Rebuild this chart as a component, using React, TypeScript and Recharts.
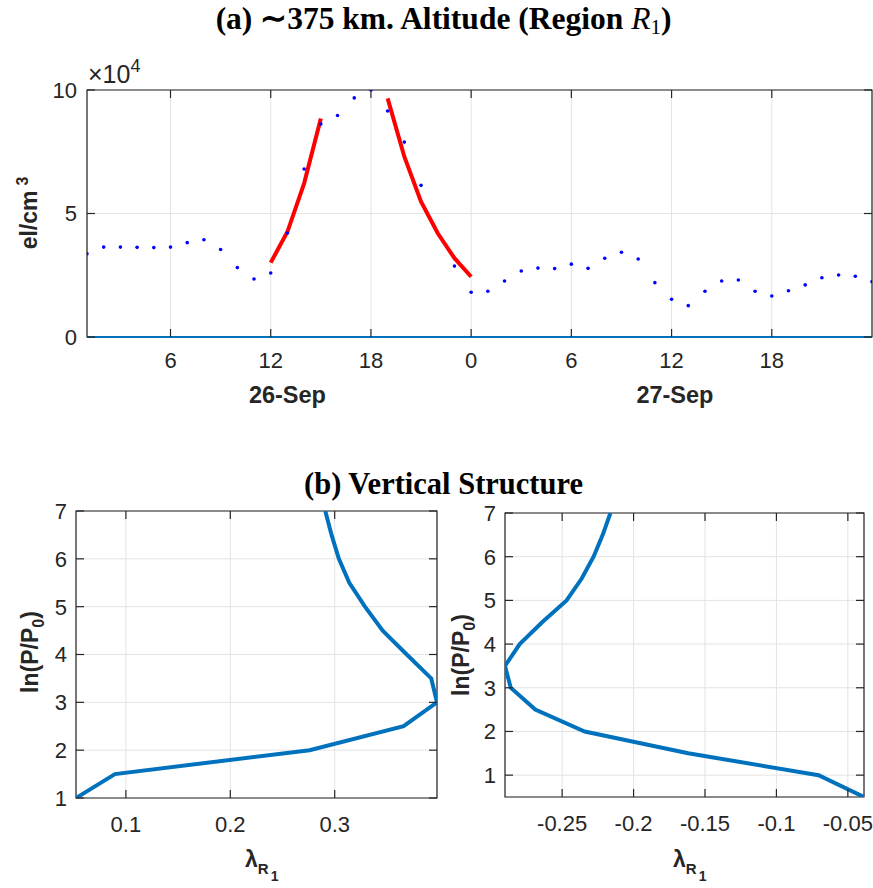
import React from 'react';
import {
  ComposedChart,
  Line,
  Scatter,
  XAxis,
  YAxis,
  CartesianGrid,
  ReferenceLine,
  ReferenceArea,
} from 'recharts';

// ---------- Data (a): electron density, units of 10^4 el/cm^3 ----------
const obsHours = [
  1, 2, 3, 4, 5, 6, 7, 8, 9, 10, 11, 12, 13, 14, 15, 16, 17, 18, 19, 20, 21,
  23, 24, 25, 26, 27, 28, 29, 30, 31, 32, 33, 34, 35, 36, 37, 38, 39, 40, 41,
  42, 43, 44, 45, 46, 47, 48,
];
const obsDensity = [
  3.37, 3.64, 3.64, 3.63, 3.62, 3.64, 3.82, 3.94, 3.54, 2.81, 2.35, 2.59, 4.21,
  6.8, 8.62, 8.97, 9.68, 10.0, 9.15, 7.89, 6.14,
  2.87, 1.81, 1.85, 2.27, 2.67, 2.79, 2.77, 2.95, 2.78, 3.19, 3.43, 3.16, 2.2,
  1.53, 1.27, 1.85, 2.27, 2.31, 1.85, 1.66, 1.87, 2.11, 2.4, 2.51, 2.46, 2.24,
];
const riseHours = [12, 13, 14, 15];
const riseDensity = [3.01, 4.26, 6.22, 8.85];
const fallHours = [19, 20, 21, 22, 23, 24];
const fallDensity = [9.66, 7.3, 5.48, 4.2, 3.19, 2.44];
const hourDomain = [1, 48];
const hourTicks = [6, 12, 18, 24, 30, 36, 42];
const densityDomain = [0, 10];
const densityTicks = [0, 5, 10];
const dateAnchorTicks = [12, 36];
const dateLabelHours = [13, 36.2];
const dateLabels = ['26-Sep', '27-Sep'];

// ---------- Data (b): vertical structure ----------
const lnPLeft = [1, 1.5, 2, 2.5, 3, 3.5, 4, 4.5, 5, 5.5, 6, 6.5, 7];
const lambdaLeft = [
  0.0522, 0.0895, 0.276, 0.366, 0.398, 0.3925, 0.369, 0.346, 0.329, 0.314,
  0.304, 0.297, 0.291,
];
const lnPRight = [0.5, 1, 1.5, 2, 2.5, 3, 3.5, 4, 4.5, 5, 5.5, 6, 6.5, 7];
const lambdaRight = [
  -0.0387, -0.0705, -0.1618, -0.2342, -0.2688, -0.286, -0.29, -0.2797, -0.264,
  -0.2469, -0.2363, -0.228, -0.2216, -0.2162,
];
const lambdaTicksLeft = [0.1, 0.2, 0.3];
const lambdaTicksRight = [-0.25, -0.2, -0.15, -0.1, -0.05];
const lnPDomainLeft = [1, 7];
const lnPDomainRight = [0.5, 7];
const lnPTicks = [1, 2, 3, 4, 5, 6, 7];

// ---------- Derived tables ----------
const dots = obsHours.map((h, i) => ({ hour: h, n: obsDensity[i] }));
const rise = riseHours.map((h, i) => ({ hour: h, n: riseDensity[i] }));
const fall = fallHours.map((h, i) => ({ hour: h, n: fallDensity[i] }));
const leftRows = lnPLeft.map((p, i) => ({ lam: lambdaLeft[i], lnp: p }));
const rightRows = lnPRight.map((p, i) => ({ lam: lambdaRight[i], lnp: p }));
const leftDomain = [Math.min(...lambdaLeft), Math.max(...lambdaLeft)];
const rightDomain = [Math.min(...lambdaRight), Math.max(...lambdaRight)];

// ---------- Styles ----------
const AX = '#262626';
const GRID = '#e3e3e3';
const BLUE = '#0072BD';
const SANS = '"Liberation Sans", Arial, Helvetica, sans-serif';
const SERIF = '"Liberation Serif", "Times New Roman", serif';
const FS = 22;
const TICK = 8;

type Frame = { top: number; bottom: number; left: number; right: number };

const fmtNum = (v: number) => String(Math.round(v * 1000) / 1000);

function makeXTick(frame: Frame, fmt: (v: number) => string, extra?: (v: number, x: number, y: number) => React.ReactNode) {
  return (props: any) => {
    const { x, y, payload } = props;
    const v = payload.value as number;
    return (
      <g>
        <line x1={x} x2={x} y1={frame.bottom} y2={frame.bottom - TICK} stroke={AX} strokeWidth={1.2} />
        <line x1={x} x2={x} y1={frame.top} y2={frame.top + TICK} stroke={AX} strokeWidth={1.2} />
        <text x={x} y={y} dy="0.71em" textAnchor="middle" fill={AX} fontSize={FS} fontFamily={SANS}>
          {fmt(v)}
        </text>
        {extra ? extra(v, x, y) : null}
      </g>
    );
  };
}

function makeYTick(frame: Frame, fmt: (v: number) => string) {
  return (props: any) => {
    const { x, y, payload } = props;
    const v = payload.value as number;
    return (
      <g>
        <line x1={frame.left} x2={frame.left + TICK} y1={y} y2={y} stroke={AX} strokeWidth={1.2} />
        <line x1={frame.right} x2={frame.right - TICK} y1={y} y2={y} stroke={AX} strokeWidth={1.2} />
        <text x={x} y={y} dy="0.36em" textAnchor="end" fill={AX} fontSize={FS} fontFamily={SANS}>
          {fmt(v)}
        </text>
      </g>
    );
  };
}

// plot frames (chart-local pixel layout, from margins and axis sizes)
const frameA: Frame = { top: 90, bottom: 337, left: 87, right: 872 };
const frameL: Frame = { top: 41, bottom: 328, left: 76, right: 437 };
const frameR: Frame = { top: 43, bottom: 327, left: 65, right: 424 };

const pxPerHour = (frameA.right - frameA.left) / (hourDomain[1] - hourDomain[0]);
const dateExtra = (v: number, x: number, y: number) => {
  const i = dateAnchorTicks.indexOf(v);
  if (i < 0) return null;
  return (
    <text
      x={x + (dateLabelHours[i] - v) * pxPerHour}
      y={y + 34}
      dy="0.71em"
      textAnchor="middle"
      fill={AX}
      fontSize={23.5}
      fontWeight="bold"
      fontFamily={SANS}
    >
      {dateLabels[i]}
    </text>
  );
};

const abs = (l: number, t: number): React.CSSProperties => ({ position: 'absolute', left: l, top: t });

function RotLabel({ cx, cy, children }: { cx: number; cy: number; children: React.ReactNode }) {
  return (
    <div
      style={{
        position: 'absolute',
        left: cx,
        top: cy,
        transform: 'translate(-50%, -50%) rotate(-90deg)',
        whiteSpace: 'nowrap',
        fontFamily: SANS,
        fontWeight: 'bold',
        fontSize: 23,
        color: AX,
        lineHeight: '23px',
      }}
    >
      {children}
    </div>
  );
}

function LambdaLabel({ left, top }: { left: number; top: number }) {
  return (
    <div style={{ ...abs(left, top), fontFamily: SANS, fontWeight: 'bold', color: AX, whiteSpace: 'nowrap', lineHeight: '22px' }}>
      <span style={{ fontSize: 23 }}>λ</span>
      <span style={{ fontSize: 15, position: 'relative', top: 7 }}>R</span>
      <span style={{ fontSize: 14, position: 'relative', top: 14, marginLeft: 2 }}>1</span>
    </div>
  );
}

export default function App() {
  return (
    <div style={{ position: 'absolute', left: 0, top: 0, width: 873, height: 888, background: '#fff', overflow: 'hidden' }}>
      {/* (a) time series */}
      <div style={abs(0, 0)}>
        <ComposedChart width={873} height={430} margin={{ top: 90, right: 1, bottom: 59, left: 0 }}>
          <CartesianGrid stroke={GRID} strokeWidth={1} />
          <XAxis
            dataKey="hour"
            type="number"
            domain={hourDomain}
            ticks={hourTicks}
            interval={0}
            allowDataOverflow
            axisLine={false}
            tickLine={false}
            tickSize={0}
            tickMargin={15}
            height={34}
            tick={makeXTick(frameA, (h) => String(h % 24), dateExtra)}
          />
          <YAxis
            type="number"
            domain={densityDomain}
            ticks={densityTicks}
            interval={0}
            allowDataOverflow
            axisLine={false}
            tickLine={false}
            tickSize={0}
            tickMargin={10}
            width={87}
            tick={makeYTick(frameA, (v) => String(v))}
          />
          <ReferenceArea
            x1={hourDomain[0]}
            x2={hourDomain[1]}
            y1={densityDomain[0]}
            y2={densityDomain[1]}
            fill="none"
            fillOpacity={0}
            stroke={AX}
            strokeWidth={1.2}
            ifOverflow="visible"
          />
          <ReferenceLine y={0} stroke={BLUE} strokeWidth={2} />
          <Line data={rise} dataKey="n" stroke="#FF0000" strokeWidth={4} dot={false} isAnimationActive={false} />
          <Line data={fall} dataKey="n" stroke="#FF0000" strokeWidth={4} dot={false} isAnimationActive={false} />
          <Scatter
            data={dots}
            dataKey="n"
            fill="#0000FF"
            isAnimationActive={false}
            shape={(p: any) => <circle cx={p.cx} cy={p.cy} r={1.8} fill="#0000FF" />}
          />
        </ComposedChart>
      </div>

      {/* (b) left */}
      <div style={abs(0, 470)}>
        <ComposedChart width={440} height={418} data={leftRows} margin={{ top: 41, right: 3, bottom: 30, left: 0 }}>
          <CartesianGrid stroke={GRID} strokeWidth={1} />
          <XAxis
            dataKey="lam"
            type="number"
            domain={leftDomain}
            ticks={lambdaTicksLeft}
            interval={0}
            allowDataOverflow
            axisLine={false}
            tickLine={false}
            tickSize={0}
            tickMargin={18}
            height={60}
            tick={makeXTick(frameL, fmtNum)}
          />
          <YAxis
            type="number"
            domain={lnPDomainLeft}
            ticks={lnPTicks}
            interval={0}
            allowDataOverflow
            axisLine={false}
            tickLine={false}
            tickSize={0}
            tickMargin={9}
            width={76}
            tick={makeYTick(frameL, (v) => String(v))}
          />
          <ReferenceArea
            x1={leftDomain[0]}
            x2={leftDomain[1]}
            y1={lnPDomainLeft[0]}
            y2={lnPDomainLeft[1]}
            fill="none"
            fillOpacity={0}
            stroke={AX}
            strokeWidth={1.2}
            ifOverflow="visible"
          />
          <Line dataKey="lnp" stroke={BLUE} strokeWidth={4} dot={false} isAnimationActive={false} />
        </ComposedChart>
      </div>

      {/* (b) right */}
      <div style={abs(440, 470)}>
        <ComposedChart width={433} height={418} data={rightRows} margin={{ top: 43, right: 9, bottom: 31, left: 0 }}>
          <CartesianGrid stroke={GRID} strokeWidth={1} />
          <XAxis
            dataKey="lam"
            type="number"
            domain={rightDomain}
            ticks={lambdaTicksRight}
            interval={0}
            allowDataOverflow
            axisLine={false}
            tickLine={false}
            tickSize={0}
            tickMargin={18}
            height={60}
            tick={makeXTick(frameR, fmtNum)}
          />
          <YAxis
            type="number"
            domain={lnPDomainRight}
            ticks={lnPTicks}
            interval={0}
            allowDataOverflow
            axisLine={false}
            tickLine={false}
            tickSize={0}
            tickMargin={9}
            width={65}
            tick={makeYTick(frameR, (v) => String(v))}
          />
          <ReferenceArea
            x1={rightDomain[0]}
            x2={rightDomain[1]}
            y1={lnPDomainRight[0]}
            y2={lnPDomainRight[1]}
            fill="none"
            fillOpacity={0}
            stroke={AX}
            strokeWidth={1.2}
            ifOverflow="visible"
          />
          <Line dataKey="lnp" stroke={BLUE} strokeWidth={4} dot={false} isAnimationActive={false} />
        </ComposedChart>
      </div>

      {/* Titles */}
      <div style={{ position: 'absolute', left: 7, top: 3, width: 873, textAlign: 'center', fontFamily: SERIF, fontWeight: 'bold', fontSize: 31.5, lineHeight: '31px', color: '#000', whiteSpace: 'nowrap' }}>
        (a) ∼375 km. Altitude (Region{' '}
        <span style={{ fontStyle: 'italic', fontWeight: 'normal' }}>R</span>
        <span style={{ fontWeight: 'normal', fontSize: 21, position: 'relative', top: 5 }}>1</span>)
      </div>
      <div style={{ position: 'absolute', left: 7, top: 469, width: 873, textAlign: 'center', fontFamily: SERIF, fontWeight: 'bold', fontSize: 30.5, lineHeight: '30px', color: '#000', whiteSpace: 'nowrap' }}>
        (b) Vertical Structure
      </div>

      {/* Exponent label */}
      <div style={{ ...abs(88, 62), fontFamily: SANS, fontSize: 25, color: AX, whiteSpace: 'nowrap', lineHeight: '25px' }}>
        ×10<span style={{ fontSize: 18, position: 'relative', top: -11 }}>4</span>
      </div>

      {/* Axis labels */}
      <RotLabel cx={30} cy={213}>
        el/cm<span style={{ fontSize: 16, position: 'relative', top: -9, marginLeft: 5 }}>3</span>
      </RotLabel>
      <RotLabel cx={31} cy={652}>
        ln(P/P<span style={{ fontSize: 16, position: 'relative', top: 6 }}>0</span>)
      </RotLabel>
      <RotLabel cx={462} cy={655}>
        ln(P/P<span style={{ fontSize: 16, position: 'relative', top: 6 }}>0</span>)
      </RotLabel>
      <LambdaLabel left={245} top={848} />
      <LambdaLabel left={673} top={848} />
    </div>
  );
}
